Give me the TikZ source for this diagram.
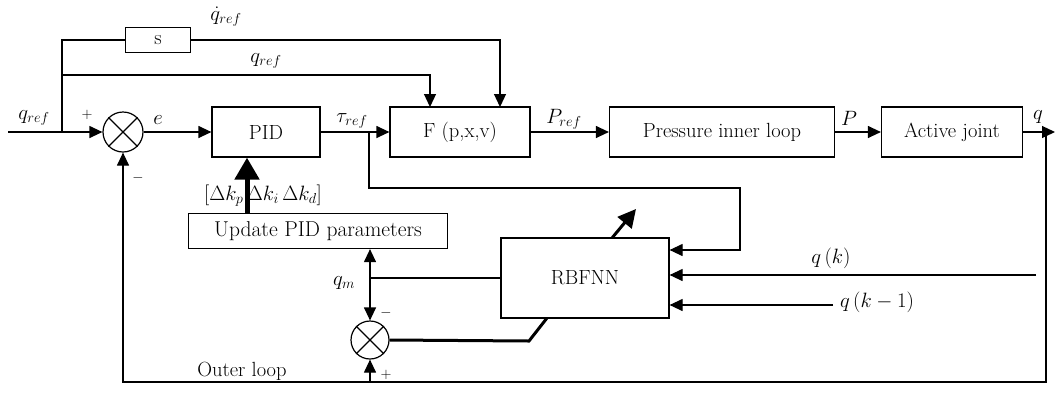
\documentclass[tikz,border=0pt]{standalone}
\usetikzlibrary{arrows.meta,calc}
\begin{document}
\begin{tikzpicture}[x=1pt,y=-1pt,
  every node/.style={font=\fontsize{20.5}{24}\selectfont},
  blk/.style={draw,line width=1.2pt,minimum height=50pt,inner sep=0pt},
  ln/.style={line width=1.2pt},
  arr/.style={ln,-{Triangle[length=13pt,width=12pt]}},
  thk/.style={line width=3pt},
  tarr/.style={line width=5pt,-{Triangle[length=22pt,width=24pt]}},
  sumc/.style={draw,circle,line width=1.2pt,minimum size=40pt,inner sep=0pt},
  lbl/.style={inner sep=1pt,font=\fontsize{21}{24}\selectfont},
  sgn/.style={inner sep=1pt,font=\fontsize{15}{18}\selectfont}]
\useasboundingbox (0,0) rectangle (1057,392);
% blocks
\node[blk,minimum width=65pt,minimum height=25pt] (s) at (158,40) {s};
\node[blk,minimum width=108pt] (PID) at (266,132) {PID};
\node[blk,minimum width=140pt] (F) at (460,132) {F (p,x,v)};
\node[blk,minimum width=225pt] (PR) at (722,132) {Pressure inner loop};
\node[blk,minimum width=141pt] (AJ) at (952,132) {Active joint};
\node[blk,minimum width=259pt,minimum height=35pt,font=\fontsize{21.5}{24}\selectfont] (UP) at (318,231) {Update PID parameters};
\node[blk,minimum width=168pt,minimum height=80pt] (RB) at (585,278) {RBFNN};
\node[sumc] (S1) at (123,132) {};
\draw[ln] (S1.45) -- (S1.225) (S1.135) -- (S1.315);
\node[sumc,minimum size=38pt] (S2) at (370,340) {};
\draw[ln] (S2.45) -- (S2.225) (S2.135) -- (S2.315);
% coordinates
\coordinate (in) at (8,132);
\coordinate (br) at (62,132);
\coordinate (b1) at (62,40);
\coordinate (b2) at (62,75);
\coordinate (Fin1) at (430,107);
\coordinate (Fin2) at (500,107);
\coordinate (tb) at (369,132);
\coordinate (t1) at (369,188);
\coordinate (t2) at (740,188);
\coordinate (t3) at (740,250);
\coordinate (out) at (1055,132);
\coordinate (fb) at (1046,132);
\coordinate (c1) at (1046,382);
\coordinate (c2) at (123,382);
\coordinate (c3) at (370,382);
\coordinate (qm) at (370,278);
\coordinate (qk) at (1036,275);
\coordinate (qk1) at (833,305);
\coordinate (d1) at (529,341);
\coordinate (d2) at (547,318);
\coordinate (w1) at (612,238);
\coordinate (w2) at (636,209);
% connectors
\draw[ln] (in) -- (br);
\draw[arr] (br) -- (S1.west);
\draw[ln] (br) -- (b1) -- (s.west);
\draw[arr] (s.east) -| (Fin2);
\draw[arr] (b2) -| (Fin1);
\draw[arr] (S1.east) -- (PID.west);
\draw[arr] (PID.east) -- (F.west);
\draw[arr] (F.east) -- (PR.west);
\draw[arr] (PR.east) -- (AJ.west);
\draw[arr] (AJ.east) -- (out);
\draw[arr] (tb) -- (t1) -- (t2) -- (t3) -- (t3 -| RB.east);
\draw[arr] (fb) -- (c1) -- (c2) -- (S1.south);
\draw[arr] (c3) -- (S2.south);
\draw[arr] (qm) -- (qm |- UP.south);
\draw[arr] (qm) -- (S2.north);
\draw[ln] (qm) -- (RB.west);
\draw[arr] (qk) -- (qk -| RB.east);
\draw[arr] (qk1) -- (qk1 -| RB.east);
\draw[thk] (S2.east) -- (d1) -- (d2);
\draw[line width=3pt,-{Triangle[length=18pt,width=18pt]}] (w1) -- (w2);
\draw[tarr] (UP.north -| 247,0) -- (PID.south -| 247,0);
% labels
\node[lbl] at (34,118) {$q_{ref}$};
\node[sgn] at (87,115) {$+$};
\node[sgn] at (138,178) {$-$};
\node[lbl] at (158,120) {$e$};
\node[lbl] at (226,17) {$\dot q_{ref}$};
\node[lbl] at (266,61) {$q_{ref}$};
\node[lbl] at (352,121) {$\tau_{ref}$};
\node[lbl] at (564,119) {$P_{ref}$};
\node[lbl] at (849,118) {$P$};
\node[lbl] at (1038,117) {$q$};
\node[lbl] at (263,196) {$[\Delta k_p\,\Delta k_i\,\Delta k_d]$};
\node[lbl] at (344,283) {$q_m$};
\node[sgn] at (386,313) {$-$};
\node[sgn] at (386,375) {$+$};
\node at (242,371) {Outer loop};
\node[lbl] at (831,258) {$q\,(k)$};
\node[lbl] at (877,302) {$q\,(k-1)$};
\end{tikzpicture}
\end{document}
